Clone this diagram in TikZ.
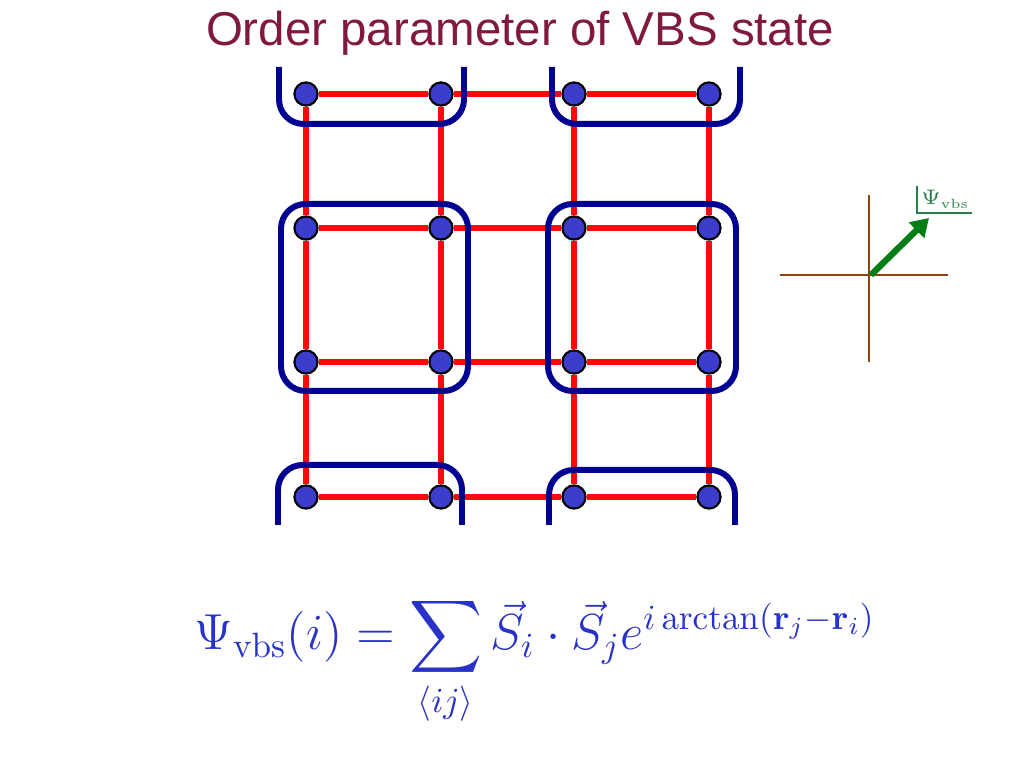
\documentclass[tikz,border=0pt]{standalone}
\usepackage[no-math]{fontspec}
\newfontfamily\titlefont{Liberation Sans}
\usepackage{amsmath}
\usetikzlibrary{arrows.meta}
\definecolor{titlered}{RGB}{128,24,64}
\definecolor{dotblue}{RGB}{60,60,205}
\definecolor{plaqblue}{RGB}{0,0,145}
\definecolor{bondred}{RGB}{250,10,10}
\definecolor{axisbrown}{RGB}{140,70,20}
\definecolor{arrgreen}{RGB}{0,125,20}
\definecolor{labgreen}{RGB}{40,125,70}
\definecolor{eqblue}{RGB}{40,50,200}
\begin{document}
\begin{tikzpicture}[
  x=0.01cm, y=-0.01cm,
  site/.style={circle, draw=black, line width=0.6pt, fill=dotblue,
               minimum size=6.6pt, inner sep=0pt},
  bond/.style={draw=bondred, line width=1.6pt},
  plaq/.style={draw=plaqblue, line width=1.7pt, rounded corners=7pt},
  axisline/.style={draw=axisbrown, line width=0.6pt},
  vec/.style={-{Triangle[length=5pt,width=6pt]}, draw=arrgreen, fill=arrgreen, line width=1.8pt}
]
\useasboundingbox (0,0) rectangle (1024,768);

\node[text=titlered, font=\titlefont\fontsize{13.5}{16}\selectfont, anchor=base] (title) at (520,46)
  {Order parameter of VBS state};

% lattice sites
\node[site] (a1) at (306,94)  {}; \node[site] (a2) at (441,94)  {};
\node[site] (a3) at (574,94)  {}; \node[site] (a4) at (709,94)  {};
\node[site] (b1) at (306,228) {}; \node[site] (b2) at (441,228) {};
\node[site] (b3) at (574,228) {}; \node[site] (b4) at (709,228) {};
\node[site] (c1) at (306,362) {}; \node[site] (c2) at (441,362) {};
\node[site] (c3) at (574,362) {}; \node[site] (c4) at (709,362) {};
\node[site] (d1) at (306,497) {}; \node[site] (d2) at (441,497) {};
\node[site] (d3) at (574,497) {}; \node[site] (d4) at (709,497) {};

% bonds
\draw[bond] (a1) -- (a2) -- (a3) -- (a4);
\draw[bond] (b1) -- (b2) -- (b3) -- (b4);
\draw[bond] (c1) -- (c2) -- (c3) -- (c4);
\draw[bond] (d1) -- (d2) -- (d3) -- (d4);
\draw[bond] (a1) -- (b1) -- (c1) -- (d1);
\draw[bond] (a2) -- (b2) -- (c2) -- (d2);
\draw[bond] (a3) -- (b3) -- (c3) -- (d3);
\draw[bond] (a4) -- (b4) -- (c4) -- (d4);

% plaquettes
\draw[plaq] (279,67) -- (279,124) -- (464,124) -- (464,67);
\draw[plaq] (552,67) -- (552,124) -- (740,124) -- (740,67);
\draw[plaq] (281,204) rectangle (468,391);
\draw[plaq] (548,204) rectangle (736,391);
\draw[plaq] (278,525) -- (278,465) -- (462,465) -- (462,525);
\draw[plaq] (549,525) -- (549,470) -- (735,470) -- (735,525);

% order parameter plane
\coordinate (xl) at (780,275); \coordinate (xr) at (948,275);
\coordinate (yt) at (869,195); \coordinate (yb) at (869,362);
\coordinate (o)  at (871,275); \coordinate (tip) at (929,218);
\draw[axisline] (xl) -- (xr);
\draw[axisline] (yt) -- (yb);
\draw[vec] (o) -- (tip);
\node[text=labgreen, font=\fontsize{6.5}{8}\selectfont, inner sep=1pt, anchor=south west] (psi) at (917,213)
  {$\Psi$\raisebox{-1.2pt}{\fontsize{3.8}{4}\selectfont vbs}};
\draw[draw=labgreen, line width=0.5pt] (psi.north west) |- (psi.south east);

\node[text=eqblue, font=\fontsize{13.8}{17}\selectfont, anchor=base] (eq) at (535,650)
  {$\displaystyle \Psi_{\mathrm{vbs}}(i)=\sum_{\langle ij\rangle}\vec{S}_i\cdot\vec{S}_j e^{i\arctan(\mathbf{r}_j-\mathbf{r}_i)}$};
\end{tikzpicture}
\end{document}
